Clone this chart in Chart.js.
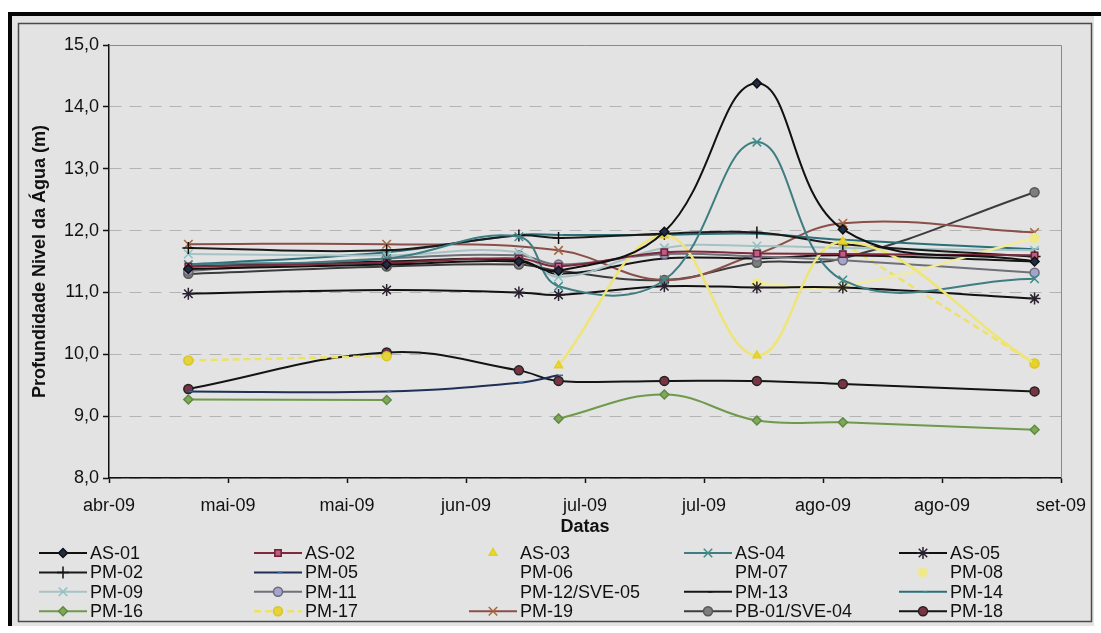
<!DOCTYPE html>
<html>
<head>
<meta charset="utf-8">
<script src="https://cdn.jsdelivr.net/npm/chart.js@4.4.1/dist/chart.umd.min.js"></script>
<style>
  html, body { margin: 0; padding: 0; background: #fff; }
  #caixa { width: 1101px; height: 633px; }
</style>
</head>
<body>
<div id="caixa"><canvas id="nivel_agua" width="1101" height="633"></canvas></div>
<script>
// datas das campanhas de medicao
const datas = ['2009-05-04', '2009-06-03', '2009-06-23', '2009-06-29', '2009-07-15', '2009-07-29', '2009-08-11', '2009-09-09'];
const inicioEixo = '2009-04-22';
const passoDias = 18;
const rotulosX = ['abr-09', 'mai-09', 'mai-09', 'jun-09', 'jul-09', 'jul-09', 'ago-09', 'ago-09', 'set-09'];
const minY = 8, maxY = 15, passoY = 1;

// profundidade do nivel da agua (m) em cada data
const as01 = [11.38, 11.45, 11.50, 11.35, 11.98, 14.38, 12.02, 11.50];
const as02 = [11.42, 11.48, 11.55, 11.42, 11.65, 11.63, 11.62, 11.60];
const as03 = [null, null, null, 9.82, 11.92, 9.98, 11.82, 9.85];
const as04 = [11.45, 11.55, 11.90, 11.10, 11.20, 13.43, 11.20, 11.22];
const as05 = [10.98, 11.04, 11.00, 10.96, 11.10, 11.08, 11.08, 10.90];
const pm02 = [11.72, 11.68, 11.92, 11.88, 11.95, 11.97, 11.78, 11.58];
const pm05 = [9.40, 9.40, 9.54, 9.66, null, null, null, null];
const pm06 = [];
const pm07 = [];
const pm08 = [null, null, null, null, null, 11.15, 11.10, 11.88];
const pm09 = [11.62, 11.60, 11.65, 11.25, 11.72, 11.75, 11.72, 11.68];
const pm11 = [11.35, 11.55, 11.60, 11.45, 11.62, 11.58, 11.52, 11.32];
const pm12sve05 = [];
const pm13 = [11.42, 11.50, 11.52, 11.30, 11.55, 11.55, 11.60, 11.50];
const pm14 = [11.45, 11.65, 11.93, 11.93, 11.93, 11.95, 11.85, 11.70];
const pm16 = [9.27, 9.26, null, 8.96, 9.35, 8.93, 8.90, 8.78];
const pm17 = [9.90, 9.97, null, null, null, null, 11.80, 9.85];
const pm19 = [11.78, 11.78, null, 11.68, 11.20, 11.62, 12.12, 11.97];
const pb01sve04 = [11.30, 11.42, 11.45, 11.35, 11.20, 11.48, 11.55, 12.62];
const pm18 = [9.44, 10.03, 9.74, 9.57, 9.57, 9.57, 9.52, 9.40];

function dias(d) {
  return Math.round((Date.parse(d) - Date.parse(inicioEixo)) / 86400000);
}
function pontos(valores) {
  if (!valores.length) return [];
  return datas.map((d, i) => ({ x: dias(d), y: valores[i] }));
}

// nome, valores, cor linha, cor marcador, borda marcador, simbolo, largura, tracejado, liga lacunas, linha na legenda
const estilos = [
  ['AS-01', as01, '#111111', '#1f2d48', '#111111', 'rectRot', 2, [], false, true],
  ['AS-02', as02, '#7e2a3c', '#c45a86', '#6a2234', 'rect', 2, [], false, true],
  ['AS-03', as03, '#efe575', '#e8d630', '#e3cf2a', 'triangle', 2.5, [], false, false],
  ['AS-04', as04, '#3f7d82', '#3f8c8c', '#3f8c8c', 'crossRot', 2, [], false, true],
  ['AS-05', as05, '#111111', '#3a2a40', '#2a2030', 'star', 2, [], false, true],
  ['PM-02', pm02, '#1a1a1a', '#111111', '#111111', 'cross', 2, [], false, true],
  ['PM-05', pm05, '#1f2f55', '#2f6aa8', '#2f6aa8', 'dash', 2, [], false, true],
  ['PM-06', pm06, 'rgba(0,0,0,0)', 'rgba(0,0,0,0)', 'rgba(0,0,0,0)', false, 0, [], false, false],
  ['PM-07', pm07, 'rgba(0,0,0,0)', 'rgba(0,0,0,0)', 'rgba(0,0,0,0)', false, 0, [], false, false],
  ['PM-08', pm08, '#f1eb9c', '#efe98e', '#efe98e', 'circle', 2.5, [], false, false],
  ['PM-09', pm09, '#a6c2c4', '#8fc0c4', '#8fc0c4', 'crossRot', 2, [], false, true],
  ['PM-11', pm11, '#6f7078', '#a7a4cc', '#6a6a7a', 'circle', 2, [], false, true],
  ['PM-12/SVE-05', pm12sve05, 'rgba(0,0,0,0)', 'rgba(0,0,0,0)', 'rgba(0,0,0,0)', false, 0, [], false, false],
  ['PM-13', pm13, '#161616', '#111111', '#111111', 'dash', 2, [], false, true],
  ['PM-14', pm14, '#2c6f78', '#3a8a94', '#3a8a94', 'dash', 2, [], false, true],
  ['PM-16', pm16, '#6f9a4c', '#7ea85a', '#5f8a40', 'rectRot', 2, [], false, true],
  ['PM-17', pm17, '#ece268', '#e6d33a', '#d8c52c', 'circle', 2.5, [7, 4], false, true],
  ['PM-19', pm19, '#8a4f48', '#a8673e', '#a8673e', 'crossRot', 2, [], true, true],
  ['PB-01/SVE-04', pb01sve04, '#3c3c3c', '#7d7d7d', '#555555', 'circle', 2, [], false, true],
  ['PM-18', pm18, '#141414', '#7b3343', '#222222', 'circle', 2, [], false, true]
];

function raio(simbolo) {
  if (!simbolo) return 0;
  return (simbolo === 'cross' || simbolo === 'crossRot' || simbolo === 'star') ? 6 : 4.5;
}

const conjuntos = estilos.map(([nome, valores, linha, marca, borda, simbolo, largura, tracejado, liga, naLegenda]) => ({
  label: nome,
  data: pontos(valores),
  borderColor: linha,
  backgroundColor: marca,
  borderWidth: largura,
  borderDash: tracejado,
  tension: 0.4,
  spanGaps: liga,
  pointStyle: simbolo || 'circle',
  pointRadius: raio(simbolo),
  pointBorderWidth: 1.5,
  pointBorderColor: borda,
  pointBackgroundColor: marca,
  showLine: !!simbolo,
  linhaLegenda: naLegenda
}));

const fonte = "'Liberation Sans', Arial, sans-serif";
Chart.defaults.font.family = fonte;
Chart.defaults.color = '#111';

const moldura = {
  id: 'moldura',
  beforeDraw(chart) {
    const c = chart.ctx;
    c.save();
    c.fillStyle = '#ffffff';
    c.fillRect(0, 0, chart.width, chart.height);
    c.fillStyle = '#e3e3e3';
    c.fillRect(10, 14, 1084, 612);
    c.fillStyle = '#050505';
    c.fillRect(8, 12, 1093, 4);
    c.fillRect(8, 12, 4, 614);
    c.strokeStyle = '#4a4a4a';
    c.lineWidth = 1.5;
    c.strokeRect(18.5, 23.5, 1073, 598);
    c.restore();
  },
  beforeDatasetsDraw(chart) {
    const a = chart.chartArea;
    const c = chart.ctx;
    c.save();
    c.strokeStyle = '#8a8a8a';
    c.lineWidth = 1;
    c.beginPath();
    c.moveTo(a.left, a.top + 0.5);
    c.lineTo(a.right + 0.5, a.top + 0.5);
    c.lineTo(a.right + 0.5, a.bottom);
    c.stroke();
    c.restore();
  },
  afterDraw(chart) {
    const c = chart.ctx;
    c.save();
    c.font = '18px ' + fonte;
    c.textBaseline = 'middle';
    chart.data.datasets.forEach((ds, i) => {
      const col = i % 5, lin = Math.floor(i / 5);
      const x0 = 39 + col * 215, y = 553 + lin * 19.4;
      if (ds.linhaLegenda) {
        c.strokeStyle = ds.borderColor;
        c.lineWidth = ds.borderWidth;
        c.setLineDash(ds.borderDash || []);
        c.beginPath();
        c.moveTo(x0, y);
        c.lineTo(x0 + 48, y);
        c.stroke();
        c.setLineDash([]);
      }
      if (ds.pointRadius > 0) {
        c.fillStyle = ds.pointBackgroundColor;
        c.strokeStyle = ds.pointBorderColor;
        c.lineWidth = 1.5;
        Chart.helpers.drawPoint(c, { pointStyle: ds.pointStyle, radius: ds.pointRadius, borderWidth: 1.5, rotation: 0 }, x0 + 24, y);
      }
      c.fillStyle = '#111';
      c.fillText(ds.label, x0 + 51, y + 1);
    });
    c.restore();
  }
};

new Chart(document.getElementById('nivel_agua'), {
  type: 'line',
  data: { datasets: conjuntos },
  plugins: [moldura],
  options: {
    responsive: false,
    devicePixelRatio: 1,
    animation: false,
    layout: { padding: { top: 45, right: 40, bottom: 95, left: 0 } },
    plugins: { legend: { display: false }, tooltip: { enabled: false } },
    scales: {
      x: {
        type: 'linear',
        min: 0,
        max: passoDias * (rotulosX.length - 1),
        afterFit(s) { s.height = 60; },
        ticks: {
          stepSize: passoDias,
          autoSkip: false,
          maxRotation: 0,
          padding: 12,
          font: { size: 18 },
          callback: v => rotulosX[Math.round(v / passoDias)]
        },
        grid: { drawOnChartArea: false, drawTicks: true, tickLength: 5, tickColor: '#111', tickWidth: 1.5 },
        border: { color: '#111', width: 1.5 },
        title: { display: true, text: 'Datas', font: { size: 18, weight: 'bold' }, padding: { top: 0, bottom: 0 } }
      },
      y: {
        min: minY,
        max: maxY,
        afterFit(s) { s.width = 109; },
        ticks: {
          stepSize: passoY,
          padding: 4,
          font: { size: 18 },
          callback: v => v.toFixed(1).replace('.', ',')
        },
        grid: { color: 'rgba(120,120,120,0.45)', lineWidth: 1, tickLength: 6, tickColor: '#111', tickWidth: 1.5 },
        border: { color: '#111', width: 1.5, dash: [12, 8] },
        title: { display: true, text: 'Profundidade Nivel da Água (m)', font: { size: 18, weight: 'bold' }, padding: { top: 29, bottom: 0 } }
      }
    }
  }
});
</script>
</body>
</html>
